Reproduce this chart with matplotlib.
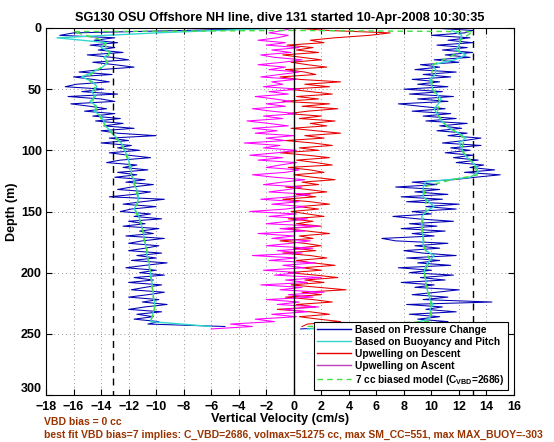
import numpy as np
import matplotlib
matplotlib.use("Agg")
import matplotlib.pyplot as plt
from matplotlib.lines import Line2D

plt.rcParams['font.family'] = ['Liberation Sans', 'DejaVu Sans']
plt.rcParams['font.weight'] = 'bold'
plt.rcParams['mathtext.fontset'] = 'custom'
plt.rcParams['mathtext.rm'] = 'Liberation Sans:bold'
plt.rcParams['mathtext.it'] = 'Liberation Sans:bold'
plt.rcParams['mathtext.bf'] = 'Liberation Sans:bold'

title = "SG130 OSU Offshore NH line, dive 131 started 10-Apr-2008 10:30:35"
xlabel = "Vertical Velocity (cm/s)"
ylabel = "Depth (m)"
note1 = "VBD bias = 0 cc"
note2 = "best fit VBD bias=7 implies: C_VBD=2686, volmax=51275 cc, max SM_CC=551, max MAX_BUOY=-303"
labels = ["Based on Pressure Change", "Based on Buoyancy and Pitch",
          "Upwelling on Descent", "Upwelling on Ascent",
          "7 cc biased model (C$_{\\rm VBD}$=2686)"]
xticks = list(range(-18, 17, 2))
yticks = [0, 50, 100, 150, 200, 250, 300]

# depth grids (m)
desc_depth = np.arange(0, 245, 2)        # 0..244
asc_depth = np.arange(246, -1, -2)       # 246..0
desc_depth4 = np.arange(0, 245, 4)       # 0..244
asc_depth4 = np.arange(246, 0, -4)       # 246..2

# pressure-based speed, descent (cm/s)
w_press_desc = [-0.5, -8, -16, -17, -13, -14.5, -12.8, -14.8, -13.0, -14.2,
                -12.4, -15.0, -13.2, -12.0, -14.6, -13.0, -11.6, -14.0, -15.6, -13.2,
                -16.0, -14.6, -13.4, -15.8, -16.6, -13.8, -15.4, -12.8, -16.4, -14.0,
                -13.0, -16.2, -14.8, -13.6, -15.2, -13.0, -14.6, -12.6, -14.4, -12.4,
                -13.8, -11.6, -14.0, -12.8, -10.0, -13.4, -12.0, -14.0, -11.8, -12.8,
                -11.2, -13.4, -12.0, -10.4, -12.6, -13.6, -11.4, -12.4, -10.6, -12.8,
                -11.4, -13.0, -10.8, -12.2, -10.2, -11.8, -12.8, -10.4, -11.6, -13.4,
                -9.4, -11.0, -12.4, -10.0, -11.8, -12.6, -10.4, -11.6, -9.6, -12.0,
                -10.8, -12.4, -9.8, -11.2, -10.2, -12.2, -9.4, -11.0, -12.0, -9.8,
                -10.8, -12.0, -9.6, -11.4, -10.0, -11.8, -9.2, -10.8, -12.2, -10.0,
                -11.2, -9.4, -11.6, -10.2, -12.0, -9.6, -10.8, -11.8, -9.4, -10.6,
                -12.0, -9.8, -11.0, -9.2, -10.8, -12.0, -9.6, -11.4, -10.2, -11.6,
                -9.8, -10.6, -5.0]
# pressure-based speed, ascent (cm/s), depths 246 -> 0
w_press_asc = [0.5, 4, 8.5, 11.2, 9.0, 10.6, 8.4, 11.8, 9.6, 10.8,
               8.2, 14.4, 9.4, 11.2, 8.6, 10.4, 12.0, 8.8, 10.2, 7.8,
               11.0, 9.2, 11.6, 8.4, 10.0, 7.6, 11.4, 9.0, 10.6, 8.2,
               11.8, 9.4, 8.0, 10.6, 8.8, 11.2, 7.4, 6.4, 10.2, 8.6,
               11.0, 7.8, 10.4, 8.4, 11.6, 9.0, 7.2, 10.0, 8.6, 11.8,
               9.6, 12.0, 8.2, 10.8, 7.8, 11.2, 8.8, 10.6, 7.4, 10.4,
               8.6, 11.6, 13.2, 15.0, 12.4, 14.6, 12.8, 13.8, 11.8, 13.4,
               11.6, 13.0, 11.0, 12.8, 11.4, 13.6, 10.8, 12.4, 13.6, 11.2,
               12.6, 10.4, 12.2, 10.6, 12.6, 9.6, 11.8, 9.4, 11.4, 8.6,
               11.0, 9.2, 7.6, 11.2, 9.0, 11.6, 8.4, 10.8, 8.0, 11.2,
               9.0, 10.6, 8.6, 11.4, 9.4, 11.8, 8.8, 10.6, 9.2, 12.0,
               10.2, 12.8, 11.0, 13.0, 10.8, 12.6, 10.4, 13.0, 11.2, 12.8,
               10.0, 12.4, 13.0, 10.0]
# buoyancy/pitch model speed, descent (4 m grid)
w_buoy_desc = [-1, -10, -17.2, -13.6, -14.0, -13.3, -13.8, -13.5, -13.9, -14.6,
               -15.4, -14.6, -14.3, -14.7, -14.4, -14.8, -14.3, -14.5, -14.0, -13.8,
               -13.7, -13.3, -13.0, -12.7, -12.4, -12.3, -12.1, -12.0, -11.9, -11.8,
               -11.8, -11.6, -11.6, -11.4, -11.3, -11.3, -11.4, -11.6, -11.3, -11.2,
               -11.1, -11.0, -10.9, -10.9, -10.8, -10.7, -10.7, -10.6, -10.5, -10.5,
               -10.4, -10.4, -10.3, -10.3, -10.2, -10.2, -10.1, -10.1, -10.2, -10.3,
               -10.4, -6.0]
# buoyancy/pitch model speed, ascent (4 m grid, 246 -> 2)
w_buoy_asc = [1, 8.5, 9.8, 10.0, 9.9, 10.1, 9.9, 9.8, 9.7, 9.6,
              9.6, 9.5, 9.5, 9.6, 9.9, 10.2, 9.6, 9.4, 9.4, 9.4,
              9.3, 9.3, 9.3, 9.3, 9.6, 10.2, 9.8, 9.4, 9.4, 9.4,
              9.6, 12.8, 13.4, 13.3, 13.0, 12.6, 12.3, 12.2, 12.0, 12.5,
              12.0, 11.3, 10.9, 10.6, 10.4, 10.2, 10.5, 10.7, 10.4, 10.1,
              10.0, 9.9, 10.3, 10.3, 10.1, 11.7, 12.5, 11.8, 12.0, 12.1,
              12.2, 11.5]
# biased model
model_desc_depth = [2, 3, 10, 20, 30, 40, 50, 60, 70, 80, 90, 100, 110, 120,
                    130, 140, 150, 160, 170, 180, 190, 200, 210, 220, 230, 240]
model_desc = [0, -16, -13.9, -13.4, -13.7, -15.0, -14.4, -14.6, -14.2, -13.7,
              -12.9, -12.3, -12.0, -11.8, -11.5, -11.3, -11.5, -11.1, -10.9, -10.7,
              -10.6, -10.4, -10.3, -10.2, -10.1, -10.4]
model_asc_depth = [244, 240, 230, 220, 210, 200, 190, 180, 170, 160, 150, 140,
                   130, 124, 120, 110, 100, 90, 80, 70, 60, 50, 40, 30, 20, 10, 3, 2]
model_asc = [1, 9.8, 10.0, 9.9, 9.6, 9.5, 9.9, 9.5, 9.4, 9.3, 9.6, 9.6,
             9.4, 11.5, 13.4, 13.0, 12.2, 12.4, 11.1, 10.4, 10.6, 10.1, 10.0, 10.1,
             12.0, 12.1, 13.0, 0]
# upwelling, descent (2 m grid)
w_up_desc = [0, 2.5, 7.0, 5.5, 3.0, 1.2, 2.2, -0.5, 1.4, 0.2,
             1.8, -0.8, 0.6, 2.0, -0.2, 1.0, 2.4, -0.6, 0.8, 1.6,
             -1.0, 0.4, 3.4, 0.8, 2.6, -0.4, 1.2, 2.8, 0.2, 1.8,
             -0.8, 2.6, 0.6, 3.2, 1.0, -0.4, 2.0, 0.4, 3.0, 1.2,
             2.4, -0.2, 1.6, 3.4, 0.8, 2.2, -0.6, 1.4, 2.8, 0.4,
             1.8, -1.0, 1.0, 2.6, 0.2, 1.6, 2.8, -0.4, 1.2, 2.2,
             0.0, 1.4, 3.0, 0.6, 1.8, -0.6, 1.0, 2.4, 0.2, 1.6,
             -0.8, 1.2, 2.6, 0.4, 1.8, -0.2, 1.0, 2.2, -0.4, 1.4,
             0.2, 2.0, -0.6, 1.0, 2.6, 0.4, 1.4, -1.0, 0.8, 2.0,
             0.0, 1.6, -0.8, 1.2, 2.4, 0.2, 1.4, 3.0, 0.6, 2.0,
             -0.4, 1.6, 3.2, 0.8, 2.2, -0.2, 1.8, 3.8, 0.6, 2.0,
             -0.6, 1.4, 2.8, 0.2, 1.6, -1.2, 1.2, 2.6, 0.4, 1.8,
             3.4, 1.0, 0.6]
# upwelling, ascent (2 m grid, 246 -> 0)
w_up_asc = [-6.0, -3.0, -4.6, -1.4, -2.8, 0.2, -1.6, 1.0, -0.8, 1.8,
            -1.2, 0.4, -2.0, 1.4, -0.4, 2.2, -1.0, 0.6, -2.4, 1.0,
            -0.6, 2.0, -1.4, 0.4, -2.2, 0.8, -0.8, 1.6, -1.8, 0.2,
            -3.0, 0.6, -1.2, 1.4, -2.0, -0.2, 1.2, -1.6, 0.0, -2.6,
            0.8, -1.0, 1.8, -2.0, -0.4, 1.0, -1.8, 0.2, -3.2, -0.6,
            0.8, -1.6, 0.4, -2.4, -0.2, 1.2, -1.8, -0.4, 0.6, -2.2,
            -0.8, 0.8, -1.4, -3.0, -0.6, 0.4, -2.0, -1.0, 0.2, -2.6,
            -0.8, -3.2, -1.2, 0.2, -2.2, -1.0, -3.6, -0.6, -2.0, 0.0,
            -2.8, -1.2, -3.0, -0.4, -1.8, -3.4, -0.8, -2.2, 0.2, -1.6,
            -3.0, -0.6, -2.0, -0.2, -1.4, -2.8, -0.4, -1.8, 0.4, -2.2,
            -0.8, -1.6, 0.2, -2.4, -1.0, 0.4, -1.8, -0.6, -2.6, -0.8,
            0.6, -1.4, -2.4, -0.2, -1.6, 0.4, -2.0, -0.6, -2.6, -1.2,
            -0.4, -1.8, -0.8, 0.0]
thresholds = [-13.1, 13.05]

c_press = '#0000b4'
c_buoy = '#30d8cc'
c_red = '#e80000'
c_mag = '#ff00ff'
c_model = '#44dd44'
c_note = '#993300'

fig = plt.figure(figsize=(5.54, 4.42), dpi=100)
ax = fig.add_axes([46/554, 1-395/442, 468/554, 367/442])

ax.plot(w_press_desc, desc_depth, color=c_press, lw=0.75)
ax.plot(w_press_asc, asc_depth, color=c_press, lw=0.75)
ax.plot(w_buoy_desc, desc_depth4, color=c_buoy, lw=1.0)
ax.plot(w_buoy_asc, asc_depth4, color=c_buoy, lw=1.0)
ax.plot(w_up_desc, desc_depth, color=c_red, lw=0.75)
ax.plot(w_up_asc, asc_depth, color=c_mag, lw=0.75)
ax.plot(model_desc, model_desc_depth, color=c_model, lw=1.0, ls=(0, (4, 3)))
ax.plot(model_asc, model_asc_depth, color=c_model, lw=1.0, ls=(0, (4, 3)))
for t in thresholds:
    ax.plot([t, t], [0, 300], color='black', lw=1.0, ls=(0, (5, 4)))
ax.plot([0, 0], [0, 300], color='black', lw=1.0)

ax.set_xlim(-18, 16)
ax.set_ylim(300, 0)
ax.set_xticks(xticks)
ax.set_yticks(yticks)
ax.grid(True, color='#999999', ls=(0, (1, 3)), lw=0.7)
ax.tick_params(direction='in', top=True, right=True, labelsize=9, length=4, width=0.8)
ax.tick_params(axis='x', pad=4)
ax.tick_params(axis='y', pad=3)
for lab in ax.get_xticklabels() + ax.get_yticklabels():
    lab.set_fontweight('bold')
ax.get_yticklabels()[-1].set_verticalalignment('bottom')
for s in ax.spines.values():
    s.set_linewidth(0.8)
ax.set_title(title, fontsize=9.2, fontweight='bold', pad=5)
ax.set_xlabel(xlabel, fontsize=9.2, fontweight='bold', labelpad=0)
ax.set_ylabel(ylabel, fontsize=9, fontweight='bold', labelpad=2)

handles = [Line2D([], [], color=c_press, lw=1.0),
           Line2D([], [], color=c_buoy, lw=1.0),
           Line2D([], [], color=c_red, lw=1.0),
           Line2D([], [], color='#c040c0', lw=1.0),
           Line2D([], [], color=c_model, lw=1.0, ls=(0, (4, 3)))]
leg = ax.legend(handles, labels, loc='lower right', bbox_to_anchor=(0.987, 0.0136),
                borderaxespad=0, fancybox=False, framealpha=1, edgecolor='black',
                prop={'size': 7.3, 'weight': 'bold'}, handlelength=3.4, handletextpad=0.4,
                labelspacing=0.2, borderpad=0.3)
leg.get_frame().set_linewidth(0.8)

fig.text(44/554, 1-422/442, note1, color=c_note, fontsize=7.5, fontweight='bold', va='center')
fig.text(44/554, 1-435/442, note2, color=c_note, fontsize=7.5, fontweight='bold', va='center')

fig.savefig('out.png', dpi=100)
